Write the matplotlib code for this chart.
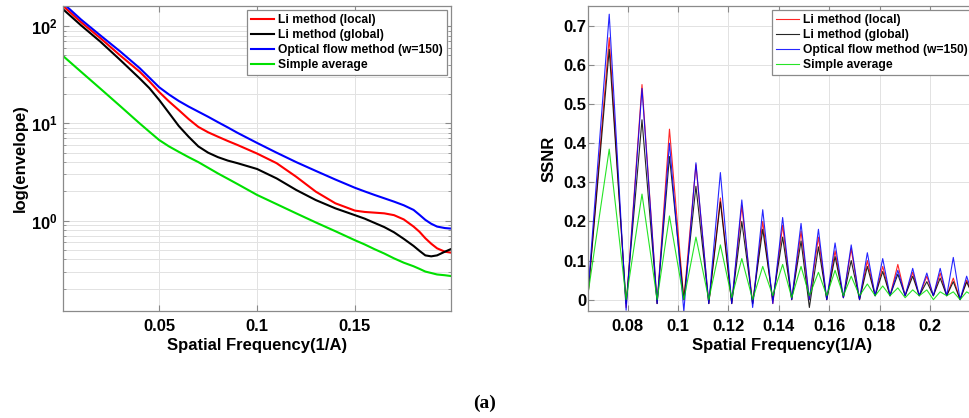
import numpy as np
import matplotlib
matplotlib.use("Agg")
import matplotlib.pyplot as plt
from matplotlib.ticker import FuncFormatter, FixedLocator, LogLocator, NullFormatter

# ---- left panel: envelope (log scale) ----
f_env = [0.001, 0.01, 0.02, 0.03, 0.04, 0.045, 0.05, 0.055, 0.06, 0.065, 0.07,
         0.075, 0.08, 0.085, 0.09, 0.10, 0.11, 0.12, 0.13, 0.14, 0.15, 0.155,
         0.16, 0.165, 0.17, 0.175, 0.18, 0.183, 0.186, 0.189, 0.192, 0.196, 0.199]
env_li_local = [160, 110, 75, 50, 34, 27, 21, 16.8, 13.7, 11.1, 9.2,
                8.1, 7.3, 6.6, 6.0, 4.9, 3.9, 2.83, 1.99, 1.51, 1.27, 1.23,
                1.21, 1.19, 1.14, 1.03, 0.87, 0.77, 0.66, 0.58, 0.52, 0.48, 0.47]
env_li_global = [148, 102, 69, 45, 29, 23, 17.4, 12.8, 9.4, 7.3, 5.8,
                 5.0, 4.5, 4.15, 3.9, 3.4, 2.72, 2.07, 1.63, 1.34, 1.14, 1.05,
                 0.95, 0.86, 0.76, 0.65, 0.55, 0.49, 0.44, 0.43, 0.44, 0.48, 0.51]
env_optflow = [171, 117, 80, 55, 37, 29.5, 23.5, 19.8, 17.0, 14.9, 13.2,
               11.7, 10.3, 9.1, 8.0, 6.3, 5.0, 4.0, 3.25, 2.65, 2.18, 2.0,
               1.84, 1.70, 1.57, 1.44, 1.29, 1.15, 1.02, 0.93, 0.87, 0.84, 0.83]
env_average = [49, 34, 22.7, 15.1, 10.0, 8.2, 6.74, 5.8, 5.1, 4.5, 4.0,
               3.5, 3.06, 2.7, 2.38, 1.84, 1.48, 1.19, 0.96, 0.78, 0.63, 0.57,
               0.51, 0.46, 0.41, 0.37, 0.34, 0.32, 0.30, 0.29, 0.28, 0.275, 0.27]

# ---- right panel: SSNR (troughs and peaks) ----
f_ssnr = [0.0644, 0.0727, 0.0794, 0.0857, 0.0917, 0.0966, 0.1023, 0.1071, 0.1122,
          0.1168, 0.1213, 0.1253, 0.1296, 0.1336, 0.1376, 0.1415, 0.1451, 0.1488,
          0.1521, 0.1557, 0.1590, 0.1623, 0.1656, 0.1687, 0.1720, 0.1751, 0.1782,
          0.1812, 0.1841, 0.1872, 0.1901, 0.1931, 0.1957, 0.1987, 0.2013, 0.2040,
          0.2066, 0.2092, 0.2119, 0.2145, 0.2170]
ssnr_li_local = [0.02, 0.67, -0.02, 0.55, -0.01, 0.436, 0.0, 0.345, -0.01, 0.26, -0.01,
                 0.24, -0.01, 0.20, -0.01, 0.19, 0.0, 0.175, 0.0, 0.16, 0.0, 0.125,
                 0.005, 0.13, 0.0, 0.10, 0.01, 0.085, 0.01, 0.09, 0.01, 0.07, 0.01,
                 0.06, 0.01, 0.068, 0.01, 0.055, 0.0, 0.05, 0.01]
ssnr_li_global = [0.02, 0.64, -0.01, 0.46, -0.01, 0.366, 0.0, 0.29, -0.01, 0.25, -0.01,
                  0.20, -0.01, 0.18, 0.0, 0.16, 0.0, 0.15, -0.02, 0.135, 0.0, 0.11,
                  0.005, 0.10, 0.0, 0.085, 0.01, 0.072, 0.01, 0.065, 0.01, 0.06, 0.01,
                  0.046, 0.01, 0.055, 0.01, 0.046, 0.0, 0.045, 0.01]
ssnr_optflow = [0.03, 0.73, -0.027, 0.54, -0.01, 0.40, -0.03, 0.35, -0.01, 0.325, -0.01,
                0.255, -0.02, 0.23, -0.01, 0.21, 0.0, 0.195, 0.0, 0.18, 0.0, 0.145,
                0.005, 0.14, 0.0, 0.12, 0.01, 0.105, 0.01, 0.075, 0.01, 0.08, 0.01,
                0.068, 0.01, 0.08, 0.01, 0.108, 0.0, 0.06, 0.01]
ssnr_average = [0.02, 0.385, 0.0, 0.27, 0.0, 0.214, 0.0, 0.16, 0.0, 0.14, 0.005,
                0.105, 0.0, 0.085, 0.01, 0.09, 0.005, 0.085, 0.01, 0.07, 0.01, 0.075,
                0.01, 0.06, 0.01, 0.04, 0.01, 0.035, 0.01, 0.03, 0.005, 0.025, 0.01,
                0.025, 0.0, 0.02, 0.01, 0.02, 0.0, 0.02, 0.01]

labels = ["Li method (local)", "Li method (global)",
          "Optical flow method (w=150)", "Simple average"]
colors = ["#ff0000", "#000000", "#0000ff", "#00e000"]

plt.rcParams["font.family"] = ["Liberation Sans", "DejaVu Sans"]
plt.rcParams["font.weight"] = "bold"
plt.rcParams["mathtext.fontset"] = "custom"
plt.rcParams["mathtext.rm"] = "Liberation Sans:bold"
plt.rcParams["mathtext.it"] = "Liberation Sans:bold"
plt.rcParams["mathtext.bf"] = "Liberation Sans:bold"

spine_col = "#8a8a8a"
grid_col = "#e2e2e2"

fig = plt.figure(figsize=(9.7, 4.18), dpi=100)
ax1 = fig.add_axes([0.0653, 0.256, 0.3994, 0.7297])
ax2 = fig.add_axes([0.6065, 0.256, 0.3994, 0.7297])

def style(ax):
    for s in ax.spines.values():
        s.set_color(spine_col)
        s.set_linewidth(0.9)
    ax.tick_params(which="both", direction="in", colors=spine_col,
                   labelcolor="black", labelsize=12, top=True, right=True)
    ax.tick_params(which="major", length=4)
    ax.tick_params(which="minor", length=2)
    ax.tick_params(axis="x", pad=6)

# left
series_env = [env_li_local, env_li_global, env_optflow, env_average]
for vals, lab, c in zip(series_env, labels, colors):
    ax1.plot(f_env, vals, color=c, lw=1.5, label=lab)
ax1.set_yscale("log")
ax1.set_xlim(0.001, 0.199)
ax1.set_ylim(0.118, 161)
ax1.xaxis.set_major_locator(FixedLocator([0.05, 0.1, 0.15]))
ax1.xaxis.set_major_formatter(FuncFormatter(lambda v, p: "%g" % v))
ax1.yaxis.set_major_locator(FixedLocator([1, 10, 100]))
ax1.yaxis.set_major_formatter(FuncFormatter(lambda v, p: r"$10^{%d}$" % round(np.log10(v))))
ax1.yaxis.set_minor_locator(LogLocator(base=10, subs=np.arange(2, 10)))
ax1.yaxis.set_minor_formatter(NullFormatter())
ax1.grid(True, which="major", color=grid_col, lw=0.7)
ax1.grid(True, which="minor", axis="y", color=grid_col, lw=0.7)
style(ax1)
ax1.tick_params(axis="y", pad=4)
ax1.set_xlabel("Spatial Frequency(1/A)", fontsize=12, fontweight="bold", labelpad=3)
ax1.set_ylabel("log(envelope)", fontsize=12, fontweight="bold", labelpad=2)

# right
series_ssnr = [ssnr_li_local, ssnr_li_global, ssnr_optflow, ssnr_average]
for vals, lab, c in zip(series_ssnr, labels, colors):
    ax2.plot(f_ssnr, vals, color=c, lw=0.8, alpha=0.85, label=lab)
ax2.set_xlim(0.0644, 0.2181)
ax2.set_ylim(-0.029, 0.751)
ax2.xaxis.set_major_locator(FixedLocator([0.08, 0.1, 0.12, 0.14, 0.16, 0.18, 0.2]))
ax2.xaxis.set_major_formatter(FuncFormatter(lambda v, p: "%g" % round(v, 3)))
ax2.yaxis.set_major_locator(FixedLocator([0, 0.1, 0.2, 0.3, 0.4, 0.5, 0.6, 0.7]))
ax2.yaxis.set_major_formatter(FuncFormatter(lambda v, p: "%g" % round(v, 2)))
ax2.grid(True, which="major", color=grid_col, lw=0.7)
style(ax2)
ax2.tick_params(axis="y", pad=1.5)
ax2.set_xlabel("Spatial Frequency(1/A)", fontsize=12, fontweight="bold", labelpad=3)
ax2.set_ylabel("SSNR", fontsize=12, fontweight="bold", labelpad=5)

for ax in (ax1, ax2):
    leg = ax.legend(loc="upper right", fontsize=8.7, handlelength=1.9,
                    handletextpad=0.35, labelspacing=0.25, borderpad=0.35,
                    borderaxespad=0.3, fancybox=False, framealpha=1)
    leg.get_frame().set_edgecolor(spine_col)
    leg.get_frame().set_linewidth(0.9)
    for t in leg.get_texts():
        t.set_fontweight("bold")

fig.text(0.5, 1 - 403 / 418, "(a)", ha="center", va="center",
         family="Liberation Serif", fontweight="bold", fontsize=14)

fig.savefig("out.png", dpi=100)
